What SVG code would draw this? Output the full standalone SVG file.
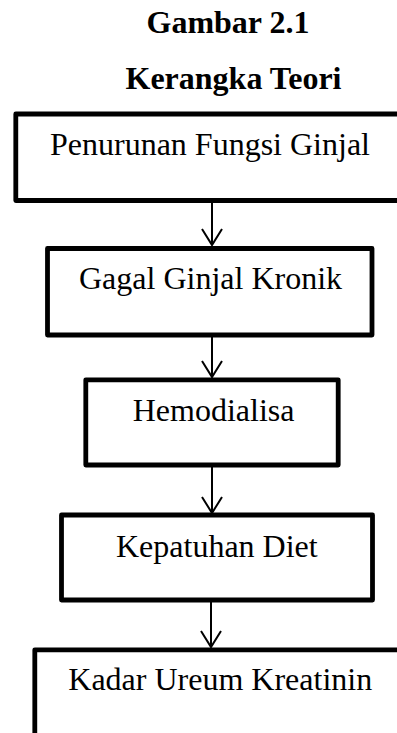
<svg xmlns="http://www.w3.org/2000/svg" width="397" height="733" viewBox="0 0 397 733">
<style>
.t{font-family:"Liberation Serif","Times New Roman",serif;font-size:32px;fill:#000}
.h{font-family:"Liberation Serif","Times New Roman",serif;font-size:32px;font-weight:bold;fill:#000;text-anchor:middle}
.b{fill:#fff;stroke:#000;stroke-width:4.8;stroke-linejoin:round}
.c{fill:none;stroke:#000;stroke-width:2}
</style>
<rect width="397" height="733" fill="#fff"/>
<text class="h" x="228" y="33">Gambar 2.1</text>
<text class="h" x="233.5" y="89">Kerangka Teori</text>
<g id="connectors">
<path class="c" d="M212 202V245M202 229L212 245L222 229"/>
<path class="c" d="M212 337V377M202 361L212 377L222 361"/>
<path class="c" d="M212 467V513M202 497L212 513L222 497"/>
<path class="c" d="M211 602V647M201 631L211 647L221 631"/>
</g>
<g id="n1">
<rect class="b" x="15.8" y="114" width="400" height="86.5"/>
<text class="t" x="50" y="155">Penurunan Fungsi Ginjal</text>
</g>
<g id="n2">
<rect class="b" x="47.5" y="248.5" width="324.5" height="86.5"/>
<text class="t" x="79" y="289">Gagal Ginjal Kronik</text>
</g>
<g id="n3">
<rect class="b" x="85.8" y="379.8" width="252.4" height="85.2"/>
<text class="t" x="132.7" y="420.5">Hemodialisa</text>
</g>
<g id="n4">
<rect class="b" x="61.5" y="515" width="311" height="85"/>
<text class="t" x="116" y="557">Kepatuhan Diet</text>
</g>
<g id="n5">
<rect class="b" x="34.8" y="649.8" width="400" height="120"/>
<text class="t" x="68.3" y="690">Kadar Ureum Kreatinin</text>
</g>
</svg>
